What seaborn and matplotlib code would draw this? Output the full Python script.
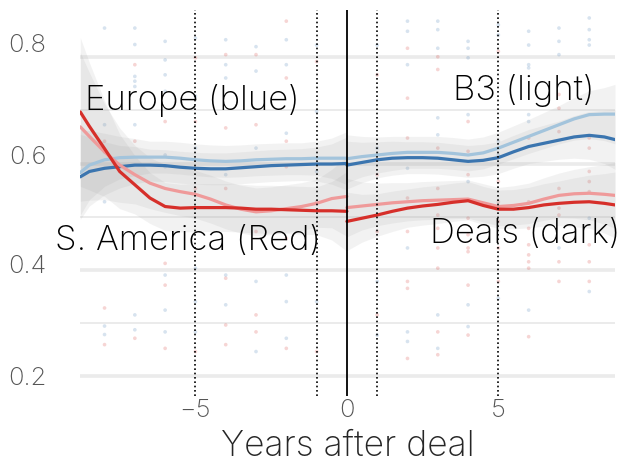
import matplotlib
matplotlib.use("Agg")
import matplotlib.pyplot as plt
from matplotlib.transforms import ScaledTranslation
import numpy as np
import pandas as pd
import seaborn as sns

# ---- smoothed trajectories (before / after the deal) ----
pre_x = [-8.8, -8.5, -8.0, -7.5, -7.0, -6.5, -6.0, -5.5, -5.0, -4.5,
         -4.0, -3.5, -3.0, -2.5, -2.0, -1.5, -1.0, -0.5, 0.0]
eu_deal_pre = [0.575, 0.585, 0.591, 0.594, 0.597, 0.597, 0.596, 0.593, 0.591, 0.590,
               0.590, 0.592, 0.594, 0.596, 0.597, 0.598, 0.599, 0.599, 0.600]
eu_b3_pre = [0.583, 0.597, 0.607, 0.611, 0.612, 0.612, 0.612, 0.610, 0.607, 0.605,
             0.604, 0.605, 0.607, 0.608, 0.609, 0.609, 0.610, 0.610, 0.610]
sa_deal_pre = [0.697, 0.670, 0.628, 0.585, 0.560, 0.535, 0.519, 0.516, 0.517, 0.517,
               0.517, 0.516, 0.514, 0.514, 0.513, 0.512, 0.511, 0.511, 0.510]
sa_b3_pre = [0.669, 0.651, 0.622, 0.597, 0.579, 0.563, 0.553, 0.547, 0.542, 0.533,
             0.522, 0.514, 0.509, 0.511, 0.515, 0.519, 0.525, 0.534, 0.538]
eu_ci_pre = [0.080, 0.065, 0.050, 0.040, 0.035, 0.030, 0.030, 0.030, 0.030, 0.030,
             0.030, 0.030, 0.030, 0.030, 0.030, 0.030, 0.032, 0.038, 0.050]
sa_ci_pre = [0.140, 0.120, 0.090, 0.070, 0.055, 0.048, 0.045, 0.045, 0.045, 0.045,
             0.045, 0.045, 0.045, 0.045, 0.045, 0.045, 0.045, 0.055, 0.075]

post_x = [0.0, 0.5, 1.0, 1.5, 2.0, 2.5, 3.0, 3.5, 4.0, 4.5,
          5.0, 5.5, 6.0, 6.5, 7.0, 7.5, 8.0, 8.5, 8.85]
eu_deal_post = [0.597, 0.602, 0.607, 0.610, 0.611, 0.611, 0.610, 0.607, 0.604, 0.606,
                0.611, 0.622, 0.632, 0.638, 0.644, 0.650, 0.653, 0.650, 0.645]
eu_b3_post = [0.609, 0.613, 0.616, 0.619, 0.621, 0.621, 0.621, 0.619, 0.616, 0.620,
              0.629, 0.640, 0.651, 0.662, 0.673, 0.684, 0.692, 0.693, 0.693]
sa_deal_post = [0.491, 0.497, 0.503, 0.510, 0.516, 0.520, 0.523, 0.527, 0.530, 0.521,
                0.514, 0.514, 0.517, 0.522, 0.525, 0.527, 0.528, 0.525, 0.522]
sa_b3_post = [0.517, 0.520, 0.523, 0.526, 0.528, 0.530, 0.531, 0.532, 0.533, 0.526,
              0.519, 0.521, 0.525, 0.533, 0.540, 0.543, 0.544, 0.542, 0.540]
eu_ci_post = [0.045, 0.038, 0.034, 0.032, 0.030, 0.030, 0.030, 0.030, 0.030, 0.030,
              0.030, 0.031, 0.032, 0.034, 0.036, 0.040, 0.045, 0.050, 0.056]
sa_ci_post = [0.055, 0.045, 0.040, 0.038, 0.036, 0.036, 0.036, 0.036, 0.036, 0.036,
              0.036, 0.037, 0.038, 0.040, 0.042, 0.046, 0.050, 0.056, 0.062]

# ---- raw yearly observations ----
eu_obs = {
    -8: [0.855, 0.673, 0.622, 0.528, 0.294, 0.278],
    -7: [0.855, 0.824, 0.764, 0.755, 0.745, 0.673, 0.315, 0.287],
    -6: [0.830, 0.795, 0.767, 0.736, 0.616, 0.594, 0.390, 0.324, 0.283],
    -5: [0.836, 0.727, 0.629, 0.403, 0.283, 0.340],
    -4: [0.833, 0.786, 0.761, 0.579, 0.390, 0.334],
    -3: [0.820, 0.774, 0.629, 0.378, 0.246],
    -2: [0.833, 0.786, 0.657, 0.390, 0.340, 0.271],
    -1: [0.823, 0.698, 0.585, 0.340],
    1: [0.823, 0.629, 0.378, 0.277],
    2: [0.868, 0.849, 0.786, 0.591, 0.441, 0.283, 0.265],
    3: [0.868, 0.852, 0.817, 0.686, 0.654, 0.315, 0.252],
    4: [0.830, 0.817, 0.799, 0.692, 0.566, 0.334, 0.293],
    5: [0.861, 0.842, 0.642, 0.616, 0.346],
    6: [0.849, 0.823, 0.786, 0.780, 0.692, 0.679, 0.324],
    7: [0.855, 0.830, 0.805, 0.441],
    8: [0.874, 0.852, 0.833, 0.823, 0.497, 0.359],
}
sa_obs = {
    -8: [0.328, 0.259, 0.642],
    -7: [0.786, 0.642, 0.271],
    -6: [0.679, 0.412, 0.371, 0.252],
    -5: [0.799, 0.679, 0.553, 0.246],
    -4: [0.805, 0.667, 0.553, 0.384, 0.296, 0.259],
    -3: [0.805, 0.673, 0.472, 0.315, 0.283],
    -2: [0.868, 0.761, 0.642, 0.594, 0.459, 0.252],
    -1: [0.792, 0.528, 0.246],
    1: [0.767, 0.579, 0.472, 0.315],
    2: [0.817, 0.723, 0.648, 0.535, 0.472, 0.378, 0.365, 0.233],
    3: [0.801, 0.777, 0.629, 0.553, 0.503, 0.478, 0.441, 0.403, 0.283, 0.240],
    4: [0.679, 0.623, 0.579, 0.497, 0.466, 0.441, 0.434, 0.371, 0.277],
    5: [0.811, 0.566, 0.528, 0.491, 0.441, 0.378],
    6: [0.648, 0.528, 0.478, 0.447, 0.428, 0.415, 0.403, 0.274],
    7: [0.730, 0.704, 0.660, 0.553, 0.516, 0.503, 0.415, 0.378],
    8: [0.648, 0.629, 0.585, 0.566, 0.547, 0.447, 0.415, 0.378],
}

y_ticks = [0.2, 0.4, 0.6, 0.8]
y_minor = [0.3, 0.5, 0.7]
x_ticks = [-5, 0, 5]
event_marks = [-5, -1, 1, 5]

BLUE_DARK, BLUE_LIGHT = "#3b75af", "#a3c4dc"
RED_DARK, RED_LIGHT = "#d62f2a", "#ef9a9a"

sns.set_theme(style="white")
plt.rcParams["font.family"] = ["Inter", "DejaVu Sans"]

fig = plt.figure(figsize=(6.42, 4.65), dpi=100)
ax = fig.add_axes([80 / 642, 1 - 396 / 465, 535 / 642, 386 / 465])

# horizontal guides
for v in y_ticks:
    ax.axhline(v, color="#ebebeb", lw=2.6, zorder=0)
for v in y_minor:
    ax.axhline(v, color="#ebebeb", lw=1.4, zorder=0)

# scatter of raw observations
obs = pd.DataFrame(
    [(x, y, "Europe") for x, ys in eu_obs.items() for y in ys]
    + [(x, y, "S. America") for x, ys in sa_obs.items() for y in ys],
    columns=["year", "value", "region"],
)
sns.scatterplot(data=obs, x="year", y="value", hue="region",
                palette={"Europe": BLUE_DARK, "S. America": RED_DARK},
                s=7, alpha=0.2, linewidth=0, legend=False, ax=ax, zorder=1)

# confidence ribbons
segments = [
    (pre_x, eu_deal_pre, eu_ci_pre), (pre_x, eu_b3_pre, eu_ci_pre),
    (pre_x, sa_deal_pre, sa_ci_pre), (pre_x, sa_b3_pre, sa_ci_pre),
    (post_x, eu_deal_post, eu_ci_post), (post_x, eu_b3_post, eu_ci_post),
    (post_x, sa_deal_post, sa_ci_post), (post_x, sa_b3_post, sa_ci_post),
]
for xs, ys, ci in segments:
    ys, ci = np.asarray(ys), np.asarray(ci)
    ax.fill_between(xs, ys - ci, ys + ci, color="#9a9a9a", alpha=0.12,
                    linewidth=0, zorder=2)

# smoothed lines
lines = pd.concat([
    pd.DataFrame({"year": pre_x, "value": eu_b3_pre, "series": "eu_b3", "period": "pre"}),
    pd.DataFrame({"year": pre_x, "value": eu_deal_pre, "series": "eu_deal", "period": "pre"}),
    pd.DataFrame({"year": pre_x, "value": sa_b3_pre, "series": "sa_b3", "period": "pre"}),
    pd.DataFrame({"year": pre_x, "value": sa_deal_pre, "series": "sa_deal", "period": "pre"}),
    pd.DataFrame({"year": post_x, "value": eu_b3_post, "series": "eu_b3", "period": "post"}),
    pd.DataFrame({"year": post_x, "value": eu_deal_post, "series": "eu_deal", "period": "post"}),
    pd.DataFrame({"year": post_x, "value": sa_b3_post, "series": "sa_b3", "period": "post"}),
    pd.DataFrame({"year": post_x, "value": sa_deal_post, "series": "sa_deal", "period": "post"}),
])
palette = {"eu_deal": BLUE_DARK, "eu_b3": BLUE_LIGHT,
           "sa_deal": RED_DARK, "sa_b3": RED_LIGHT}
for period, sub in lines.groupby("period"):
    sns.lineplot(data=sub, x="year", y="value", hue="series", palette=palette,
                 estimator=None, sort=False, lw=2.3, legend=False, ax=ax, zorder=3)

# annotations
txt = dict(fontsize=25, fontweight="light", color="black", zorder=5, clip_on=False)
ax.text(-8.65, 0.701, "Europe (blue)", ha="left", va="baseline", **txt)
ax.text(-9.62, 0.437, "S. America (Red)", ha="left", va="baseline", **txt)
ax.text(3.5, 0.720, "B3 (light)", ha="left", va="baseline", **txt)
ax.text(2.74, 0.450, "Deals (dark)", ha="left", va="baseline", **txt)

# deal and window markers
ax.axvline(0, color="black", lw=1.3, zorder=6)
for xm in event_marks:
    ax.axvline(xm, color="black", lw=1.2, ls=(0, (1, 1.6)), zorder=6)

ax.set_xlim(-8.81, 8.85)
ax.set_ylim(0.1623, 0.889)
ax.set_xticks(x_ticks)
ax.set_xticklabels(["\u22125", "0", "5"])
ax.set_yticks(y_ticks)
ax.set_yticklabels(["0.2", "0.4", "0.6", "0.8"])
ax.tick_params(axis="both", length=0, labelsize=18.5, labelcolor="#555555", pad=2)
ax.tick_params(axis="y", pad=24)
for lab, dy in zip(ax.get_yticklabels(), [0, 6, 9, 14]):
    lab.set_transform(lab.get_transform() + ScaledTranslation(0, dy / 100, fig.dpi_scale_trans))
for lab in ax.get_xticklabels() + ax.get_yticklabels():
    lab.set_fontweight("light")
ax.set_xlabel("Years after deal", fontsize=25.5, fontweight="light", labelpad=6)
ax.set_ylabel("")
for s in ax.spines.values():
    s.set_visible(False)
ax.grid(False)

fig.savefig("out.png", dpi=100)
